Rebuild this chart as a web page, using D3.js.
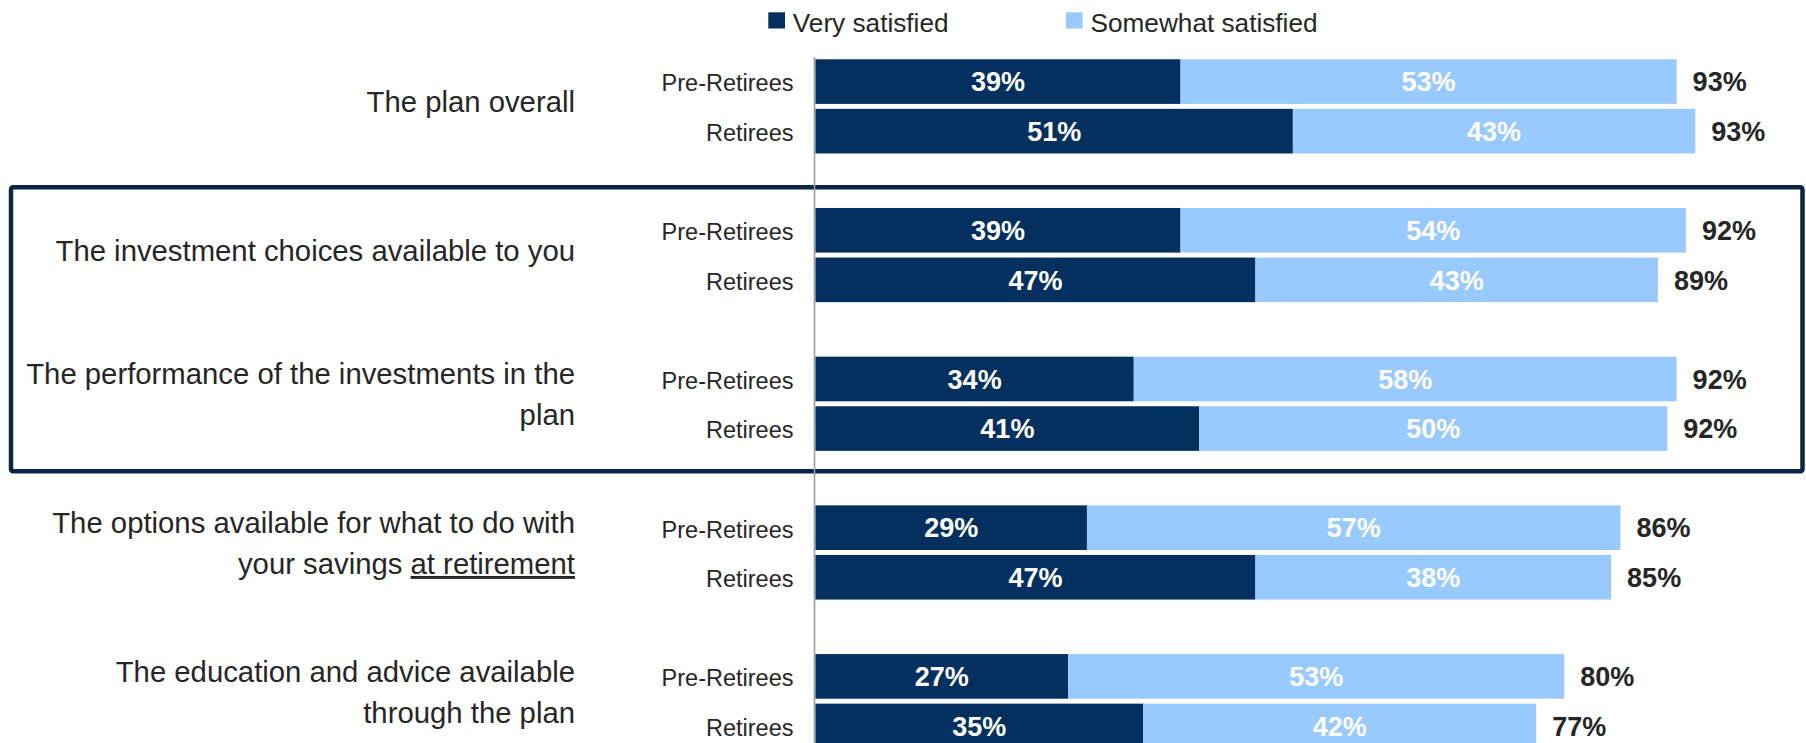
<!DOCTYPE html>
<html>
<head>
<meta charset="utf-8">
<script src="https://d3js.org/d3.v7.min.js"></script>
<style>
  html, body { margin: 0; padding: 0; background: #fff; }
  svg { display: block; font-family: "Liberation Sans", Arial, sans-serif; }
</style>
</head>
<body>
<svg id="chart" width="1806" height="743"></svg>
<script>
// Satisfaction with aspects of the plan, by respondent group
const categories = [
  ["The plan overall"],
  ["The investment choices available to you"],
  ["The performance of the investments in the", "plan"],
  ["The options available for what to do with", "your savings at retirement"],
  ["The education and advice available", "through the plan"]
];
const underlinedPhrase = "at retirement";
const respondentGroups = ["Pre-Retirees", "Retirees"];
const seriesNames = ["Very satisfied", "Somewhat satisfied"];

const veryPre      = [39, 39, 34, 29, 27];
const veryRet      = [51, 47, 41, 47, 35];
const somewhatPre  = [53, 54, 58, 57, 53];
const somewhatRet  = [43, 43, 50, 38, 42];
const totalPre     = [93, 92, 92, 86, 80];
const totalRet     = [93, 89, 92, 85, 77];

// Categories that are framed together
const framedCategories = [1, 2];

const colors = { "Very satisfied": "#03305f", "Somewhat satisfied": "#99caff" };
const textColor = "#262626";

// Build rows from the arrays
const rows = [];
categories.forEach((lines, i) => {
  rows.push({ cat: i, group: "Pre-Retirees", very: veryPre[i], somewhat: somewhatPre[i], total: totalPre[i] });
  rows.push({ cat: i, group: "Retirees", very: veryRet[i], somewhat: somewhatRet[i], total: totalRet[i] });
});

const svg = d3.select("#chart");

// Scales
const x = d3.scaleLinear().domain([0, 100]).range([815.5, 815.5 + 936]);
const yCat = d3.scaleBand()
  .domain(d3.range(categories.length))
  .range([56.8, 56.8 + 148.7 * categories.length])
  .paddingInner(0).paddingOuter(0);
const ySub = d3.scaleBand()
  .domain(respondentGroups)
  .range([0, 99.14])
  .paddingInner(0.1).paddingOuter(0.05);

const rowY = d => yCat(d.cat) + ySub(d.group);
const rowMid = d => rowY(d) + ySub.bandwidth() / 2;
const catMid = i => yCat(i) + ySub(respondentGroups[0]) + (ySub(respondentGroups[1]) + ySub.bandwidth() - ySub(respondentGroups[0])) / 2;

// Frame around the investment rows
const frameTop = yCat(framedCategories[0]) + ySub(respondentGroups[0]) - 20.7;
const frameBottom = yCat(framedCategories[framedCategories.length - 1]) + ySub(respondentGroups[1]) + ySub.bandwidth() + 20.5;
svg.append("rect")
  .attr("x", 11).attr("y", frameTop)
  .attr("width", 1791.5).attr("height", frameBottom - frameTop)
  .attr("rx", 2)
  .attr("fill", "none")
  .attr("stroke", "#0b2545")
  .attr("stroke-width", 4.5);

// Vertical baseline axis
svg.append("line")
  .attr("x1", x(0) - 1).attr("x2", x(0) - 1)
  .attr("y1", 57).attr("y2", 743)
  .attr("stroke", "#9c9c9c")
  .attr("stroke-width", 1.6);

// Stacked bars
const barG = svg.append("g");
barG.selectAll("rect.very").data(rows).join("rect")
  .attr("class", "very")
  .attr("x", x(0))
  .attr("y", rowY)
  .attr("width", d => x(d.very) - x(0))
  .attr("height", ySub.bandwidth())
  .attr("fill", colors["Very satisfied"]);

barG.selectAll("rect.somewhat").data(rows).join("rect")
  .attr("class", "somewhat")
  .attr("x", d => x(d.very))
  .attr("y", rowY)
  .attr("width", d => x(d.very + d.somewhat) - x(d.very))
  .attr("height", ySub.bandwidth())
  .attr("fill", colors["Somewhat satisfied"]);

// Segment value labels
const valueFont = 27;
barG.selectAll("text.very-val").data(rows).join("text")
  .attr("class", "very-val")
  .attr("x", d => (x(0) + x(d.very)) / 2)
  .attr("y", d => rowMid(d) + valueFont * 0.36)
  .attr("text-anchor", "middle")
  .attr("font-size", valueFont)
  .attr("font-weight", "bold")
  .attr("fill", "#ffffff")
  .text(d => d.very + "%");

barG.selectAll("text.somewhat-val").data(rows).join("text")
  .attr("class", "somewhat-val")
  .attr("x", d => (x(d.very) + x(d.very + d.somewhat)) / 2)
  .attr("y", d => rowMid(d) + valueFont * 0.36)
  .attr("text-anchor", "middle")
  .attr("font-size", valueFont)
  .attr("font-weight", "bold")
  .attr("fill", "#ffffff")
  .text(d => d.somewhat + "%");

// Totals at the end of each bar
barG.selectAll("text.total").data(rows).join("text")
  .attr("class", "total")
  .attr("x", d => x(d.very + d.somewhat) + 16)
  .attr("y", d => rowMid(d) + valueFont * 0.36)
  .attr("font-size", valueFont)
  .attr("font-weight", "bold")
  .attr("fill", textColor)
  .text(d => d.total + "%");

// Respondent group labels
svg.append("g").selectAll("text").data(rows).join("text")
  .attr("x", 793.5)
  .attr("y", d => rowMid(d) + 23.5 * 0.42)
  .attr("text-anchor", "end")
  .attr("font-size", 23.5)
  .attr("fill", textColor)
  .text(d => d.group);

// Category labels (right aligned, wrapped)
const catFont = 29.3;
const lineGap = 41;
const catG = svg.append("g");
categories.forEach((lines, i) => {
  const n = lines.length;
  const offset = n === 1 ? 5.5 : 1;
  lines.forEach((line, j) => {
    const t = catG.append("text")
      .attr("x", 575)
      .attr("y", catMid(i) + offset + (j - (n - 1) / 2) * lineGap)
      .attr("text-anchor", "end")
      .attr("font-size", catFont)
      .attr("fill", textColor);
    const k = line.indexOf(underlinedPhrase);
    if (k >= 0) {
      t.append("tspan").text(line.slice(0, k));
      t.append("tspan").attr("text-decoration", "underline").text(underlinedPhrase);
      const rest = line.slice(k + underlinedPhrase.length);
      if (rest) t.append("tspan").text(rest);
    } else {
      t.text(line);
    }
  });
});

// Legend
const legendItems = [
  { name: seriesNames[0], x: 768.3 },
  { name: seriesNames[1], x: 1066 }
];
const legend = svg.append("g");
legend.selectAll("rect").data(legendItems).join("rect")
  .attr("x", d => d.x).attr("y", 12.3)
  .attr("width", 16.7).attr("height", 16.2)
  .attr("fill", d => colors[d.name]);
legend.selectAll("text").data(legendItems).join("text")
  .attr("x", d => d.x + 24.5)
  .attr("y", 31.5)
  .attr("font-size", 26.2)
  .attr("fill", textColor)
  .text(d => d.name);
</script>
</body>
</html>
